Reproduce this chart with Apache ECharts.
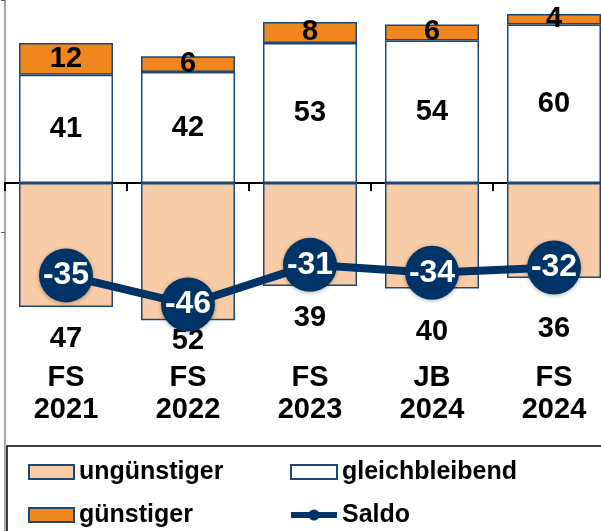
<!DOCTYPE html>
<html>
<head>
<meta charset="utf-8">
<script src="https://cdn.jsdelivr.net/npm/echarts@6/dist/echarts.min.js"></script>
<style>
  html, body { margin: 0; padding: 0; background: #fff; }
  #chart { width: 601px; height: 531px; }
</style>
</head>
<body>
<div id="chart"></div>
<script>
// data
var categories = ['FS\n2021', 'FS\n2022', 'FS\n2023', 'JB\n2024', 'FS\n2024']
var unguenstiger = [47, 52, 39, 40, 36]
var gleichbleibend = [41, 42, 53, 54, 60]
var guenstiger = [12, 6, 8, 6, 4]
var saldo = [-35, -46, -31, -34, -32]

// label gap below the negative bars (style only)
var lossLabelGap = [17, 6, 18, 29, 36]

var font = '"Liberation Sans", Arial, sans-serif'
var navy = '#003366'
var edge = '#1a4877'

var chart = echarts.init(document.getElementById('chart'))

var lossData = unguenstiger.map(function (v, i) {
  return { value: -v, label: { distance: lossLabelGap[i] } }
})

var legendText = { fontSize: 25, fontWeight: 'bold', color: '#000', fontFamily: font, lineHeight: 28 }

var option = {
  animation: false,
  textStyle: { fontFamily: font },
  grid: { left: 5, top: 0, width: 610, height: 531, containLabel: false, outerBoundsMode: 'none' },
  xAxis: {
    type: 'category',
    data: categories,
    axisLine: { onZero: true, lineStyle: { color: '#000', width: 2 } },
    axisTick: { show: true, length: 8, lineStyle: { color: '#000', width: 2 } },
    axisLabel: {
      margin: -169,
      color: '#000',
      fontSize: 29,
      fontWeight: 'bold',
      lineHeight: 32,
      fontFamily: font
    }
  },
  yAxis: {
    type: 'value',
    min: -131.8,
    max: 69.3,
    interval: 113.2,
    axisLine: { show: true, lineStyle: { color: '#a6a6a6', width: 2 } },
    axisTick: { show: true, length: 4, lineStyle: { color: '#555' } },
    axisLabel: { show: false },
    splitLine: { show: false }
  },
  legend: [
    {
      left: 28,
      top: 458,
      orient: 'vertical',
      padding: 0,
      itemGap: 15,
      itemWidth: 45,
      itemHeight: 14,
      data: [{ name: 'ungünstiger', icon: 'rect' }, { name: 'günstiger', icon: 'rect' }],
      textStyle: legendText
    },
    {
      left: 288,
      top: 458,
      orient: 'vertical',
      padding: 0,
      itemGap: 15,
      itemWidth: 46,
      itemHeight: 14,
      data: [{ name: 'gleichbleibend', icon: 'rect' }, { name: 'Saldo' }],
      lineStyle: { width: 6 },
      textStyle: legendText
    }
  ],
  graphic: [
    {
      type: 'rect',
      shape: { x: 7, y: 446, width: 620, height: 120 },
      style: { fill: 'none', stroke: '#000', lineWidth: 1.5 },
      silent: true
    }
  ],
  series: [
    {
      name: 'ungünstiger',
      type: 'bar',
      stack: 'umfrage',
      barWidth: 94,
      data: lossData,
      itemStyle: { color: '#f8cca6', borderColor: edge, borderWidth: 1.5 },
      label: {
        show: true,
        position: 'bottom',
        color: '#000',
        fontSize: 29,
        fontWeight: 'bold',
        fontFamily: font,
        formatter: function (p) { return Math.abs(p.value) }
      }
    },
    {
      name: 'gleichbleibend',
      type: 'bar',
      stack: 'umfrage',
      barWidth: 94,
      data: gleichbleibend,
      itemStyle: { color: '#fff', borderColor: edge, borderWidth: 1.5 },
      label: { show: true, position: 'inside', color: '#000', fontSize: 29, fontWeight: 'bold', fontFamily: font }
    },
    {
      name: 'günstiger',
      type: 'bar',
      stack: 'umfrage',
      barWidth: 94,
      data: guenstiger,
      itemStyle: { color: '#ef861e', borderColor: edge, borderWidth: 1.5 },
      label: { show: true, position: 'inside', color: '#000', fontSize: 29, fontWeight: 'bold', fontFamily: font }
    },
    {
      name: 'Saldo',
      type: 'line',
      data: saldo,
      z: 5,
      symbol: 'circle',
      symbolSize: 54,
      lineStyle: { color: navy, width: 8 },
      itemStyle: { color: navy, shadowBlur: 4, shadowColor: 'rgba(0,0,0,0.3)', shadowOffsetY: 1 },
      label: {
        show: true,
        position: 'inside',
        color: '#fff',
        fontSize: 32,
        fontWeight: 'bold',
        fontFamily: font
      }
    }
  ]
}

chart.setOption(option)
</script>
</body>
</html>
